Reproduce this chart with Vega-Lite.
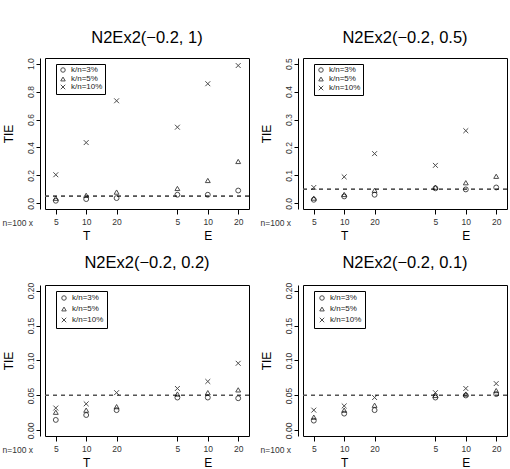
{
  "$schema": "https://vega.github.io/schema/vega-lite/v6.json",
  "padding": {"left": 1, "top": 29, "right": 0, "bottom": 0},
  "config": {
    "font": "Liberation Sans",
    "view": {"stroke": "black", "strokeWidth": 1},
    "title": {"fontSize": 16.5, "fontWeight": "normal", "color": "black", "offset": 11, "baseline": "alphabetic", "anchor": "middle", "frame": "group"},
    "axis": {"grid": false, "domain": false, "tickColor": "black", "domainColor": "black", "labelColor": "#333", "titleColor": "black", "titleFontWeight": "normal", "labelOverlap": false},
    "axisY": {"domain": true, "offset": 5, "tickSize": 4, "labelAngle": -90, "labelAlign": "center", "labelBaseline": "bottom", "labelPadding": 1, "labelFontSize": 8.5, "titleFontSize": 12, "titlePadding": 11, "labelOverlap": false},
    "legend": {
      "title": null, "orient": "none", "legendX": 11, "legendY": 6,
      "strokeColor": "black", "strokeWidth": 1, "padding": 2,
      "labelFontSize": 8, "labelColor": "#222", "labelOffset": 4,
      "symbolSize": 20, "symbolStrokeWidth": 1, "symbolStrokeColor": "black", "symbolFillColor": "transparent",
      "symbolOffset": 1, "rowPadding": -1.5
    }
  },
  "datasets": {
    "tie": [
      {"panel": "1", "cell": "T-5", "k": "k/n=3%", "tie": 0.019},
      {"panel": "1", "cell": "T-5", "k": "k/n=5%", "tie": 0.037},
      {"panel": "1", "cell": "T-5", "k": "k/n=10%", "tie": 0.205},
      {"panel": "1", "cell": "T-10", "k": "k/n=3%", "tie": 0.031},
      {"panel": "1", "cell": "T-10", "k": "k/n=5%", "tie": 0.058},
      {"panel": "1", "cell": "T-10", "k": "k/n=10%", "tie": 0.435},
      {"panel": "1", "cell": "T-20", "k": "k/n=3%", "tie": 0.038},
      {"panel": "1", "cell": "T-20", "k": "k/n=5%", "tie": 0.081},
      {"panel": "1", "cell": "T-20", "k": "k/n=10%", "tie": 0.734},
      {"panel": "1", "cell": "E-5", "k": "k/n=3%", "tie": 0.062},
      {"panel": "1", "cell": "E-5", "k": "k/n=5%", "tie": 0.107},
      {"panel": "1", "cell": "E-5", "k": "k/n=10%", "tie": 0.545},
      {"panel": "1", "cell": "E-10", "k": "k/n=3%", "tie": 0.062},
      {"panel": "1", "cell": "E-10", "k": "k/n=5%", "tie": 0.164},
      {"panel": "1", "cell": "E-10", "k": "k/n=10%", "tie": 0.856},
      {"panel": "1", "cell": "E-20", "k": "k/n=3%", "tie": 0.092},
      {"panel": "1", "cell": "E-20", "k": "k/n=5%", "tie": 0.300},
      {"panel": "1", "cell": "E-20", "k": "k/n=10%", "tie": 0.986},

      {"panel": "0.5", "cell": "T-5", "k": "k/n=3%", "tie": 0.013},
      {"panel": "0.5", "cell": "T-5", "k": "k/n=5%", "tie": 0.019},
      {"panel": "0.5", "cell": "T-5", "k": "k/n=10%", "tie": 0.057},
      {"panel": "0.5", "cell": "T-10", "k": "k/n=3%", "tie": 0.025},
      {"panel": "0.5", "cell": "T-10", "k": "k/n=5%", "tie": 0.032},
      {"panel": "0.5", "cell": "T-10", "k": "k/n=10%", "tie": 0.095},
      {"panel": "0.5", "cell": "T-20", "k": "k/n=3%", "tie": 0.031},
      {"panel": "0.5", "cell": "T-20", "k": "k/n=5%", "tie": 0.047},
      {"panel": "0.5", "cell": "T-20", "k": "k/n=10%", "tie": 0.178},
      {"panel": "0.5", "cell": "E-5", "k": "k/n=3%", "tie": 0.054},
      {"panel": "0.5", "cell": "E-5", "k": "k/n=5%", "tie": 0.058},
      {"panel": "0.5", "cell": "E-5", "k": "k/n=10%", "tie": 0.136},
      {"panel": "0.5", "cell": "E-10", "k": "k/n=3%", "tie": 0.050},
      {"panel": "0.5", "cell": "E-10", "k": "k/n=5%", "tie": 0.074},
      {"panel": "0.5", "cell": "E-10", "k": "k/n=10%", "tie": 0.260},
      {"panel": "0.5", "cell": "E-20", "k": "k/n=3%", "tie": 0.057},
      {"panel": "0.5", "cell": "E-20", "k": "k/n=5%", "tie": 0.097},

      {"panel": "0.2", "cell": "T-5", "k": "k/n=3%", "tie": 0.015},
      {"panel": "0.2", "cell": "T-5", "k": "k/n=5%", "tie": 0.026},
      {"panel": "0.2", "cell": "T-5", "k": "k/n=10%", "tie": 0.032},
      {"panel": "0.2", "cell": "T-10", "k": "k/n=3%", "tie": 0.022},
      {"panel": "0.2", "cell": "T-10", "k": "k/n=5%", "tie": 0.029},
      {"panel": "0.2", "cell": "T-10", "k": "k/n=10%", "tie": 0.038},
      {"panel": "0.2", "cell": "T-20", "k": "k/n=3%", "tie": 0.029},
      {"panel": "0.2", "cell": "T-20", "k": "k/n=5%", "tie": 0.034},
      {"panel": "0.2", "cell": "T-20", "k": "k/n=10%", "tie": 0.054},
      {"panel": "0.2", "cell": "E-5", "k": "k/n=3%", "tie": 0.047},
      {"panel": "0.2", "cell": "E-5", "k": "k/n=5%", "tie": 0.052},
      {"panel": "0.2", "cell": "E-5", "k": "k/n=10%", "tie": 0.060},
      {"panel": "0.2", "cell": "E-10", "k": "k/n=3%", "tie": 0.047},
      {"panel": "0.2", "cell": "E-10", "k": "k/n=5%", "tie": 0.054},
      {"panel": "0.2", "cell": "E-10", "k": "k/n=10%", "tie": 0.070},
      {"panel": "0.2", "cell": "E-20", "k": "k/n=3%", "tie": 0.046},
      {"panel": "0.2", "cell": "E-20", "k": "k/n=5%", "tie": 0.058},
      {"panel": "0.2", "cell": "E-20", "k": "k/n=10%", "tie": 0.096},

      {"panel": "0.1", "cell": "T-5", "k": "k/n=3%", "tie": 0.014},
      {"panel": "0.1", "cell": "T-5", "k": "k/n=5%", "tie": 0.019},
      {"panel": "0.1", "cell": "T-5", "k": "k/n=10%", "tie": 0.029},
      {"panel": "0.1", "cell": "T-10", "k": "k/n=3%", "tie": 0.024},
      {"panel": "0.1", "cell": "T-10", "k": "k/n=5%", "tie": 0.029},
      {"panel": "0.1", "cell": "T-10", "k": "k/n=10%", "tie": 0.035},
      {"panel": "0.1", "cell": "T-20", "k": "k/n=3%", "tie": 0.029},
      {"panel": "0.1", "cell": "T-20", "k": "k/n=5%", "tie": 0.036},
      {"panel": "0.1", "cell": "T-20", "k": "k/n=10%", "tie": 0.047},
      {"panel": "0.1", "cell": "E-5", "k": "k/n=3%", "tie": 0.047},
      {"panel": "0.1", "cell": "E-5", "k": "k/n=5%", "tie": 0.050},
      {"panel": "0.1", "cell": "E-5", "k": "k/n=10%", "tie": 0.054},
      {"panel": "0.1", "cell": "E-10", "k": "k/n=3%", "tie": 0.050},
      {"panel": "0.1", "cell": "E-10", "k": "k/n=5%", "tie": 0.052},
      {"panel": "0.1", "cell": "E-10", "k": "k/n=10%", "tie": 0.060},
      {"panel": "0.1", "cell": "E-20", "k": "k/n=3%", "tie": 0.052},
      {"panel": "0.1", "cell": "E-20", "k": "k/n=5%", "tie": 0.057},
      {"panel": "0.1", "cell": "E-20", "k": "k/n=10%", "tie": 0.067}
    ]
  },
  "data": {"name": "tie"},
  "bounds": "flush",
  "columns": 2,
  "spacing": {"row": 76, "column": 54},
  "resolve": {"scale": {"shape": "independent", "y": "independent", "x": "independent"}, "legend": {"shape": "independent"}},
  "concat": [
    {
      "width": 204, "height": 151,
      "title": "N2Ex2(−0.2, 1)",
      "transform": [{"filter": "datum.panel == '1'"}],
      "layer": [
        {"mark": {"type": "rule", "color": "#555", "strokeWidth": 0.8, "strokeDash": [4, 4]},
         "encoding": {"y": {"datum": 0.05, "type": "quantitative", "scale": {"domain": [-0.04, 1.04], "nice": false, "zero": false},
                            "axis": {"title": "TIE", "values": [0, 0.2, 0.4, 0.6, 0.8, 1.0], "format": ".1f", "labelOverlap": false}}}},
        {"mark": {"type": "point", "filled": false, "stroke": "black", "strokeWidth": 1, "size": 24, "clip": true},
         "encoding": {
           "x": {"field": "cell", "type": "nominal",
                 "scale": {"type": "point", "domain": ["T-5", "T-10", "T-20", "gap", "E-5", "E-10", "E-20"], "padding": 0.355},
                 "axis": {"orient": "bottom", "values": ["T-5", "T-10", "T-20", "E-5", "E-10", "E-20"], "labelExpr": "split(datum.value, '-')[1]", "labelAngle": 0, "tickSize": 5, "labelPadding": 3, "labelFontSize": 8.5,
                          "title": "n=100 x", "titleFontSize": 8.5, "titleColor": "#333", "titleAngle": 0, "titleAlign": "left", "titleBaseline": "middle", "titleX": -43, "titleY": 13}},
           "y": {"field": "tie", "type": "quantitative",
                 "scale": {"domain": [-0.04, 1.04], "nice": false, "zero": false},
                 "axis": {"title": "TIE", "values": [0, 0.2, 0.4, 0.6, 0.8, 1.0], "format": ".1f", "labelOverlap": false}},
           "shape": {"field": "k", "type": "nominal",
                     "scale": {"domain": ["k/n=3%", "k/n=5%", "k/n=10%"], "range": ["circle", "triangle-up", "M-1,-1L1,1M-1,1L1,-1"]},
                     "legend": {"labelExpr": "datum.label + '      '"}}
         }},
        {"mark": {"type": "point", "opacity": 0},
         "encoding": {
           "x": {"field": "cell", "type": "nominal",
                 "axis": {"orient": "bottom", "values": ["T-10", "E-10"], "labelExpr": "split(datum.value, '-')[0]", "labelAngle": 0, "ticks": false, "labelPadding": 21, "labelFontSize": 12, "labelColor": "black", "title": null}}
         }}
      ],
      "resolve": {"axis": {"x": "independent"}}
    },
    {
      "width": 204, "height": 151,
      "title": "N2Ex2(−0.2, 0.5)",
      "transform": [{"filter": "datum.panel == '0.5'"}],
      "layer": [
        {"mark": {"type": "rule", "color": "#555", "strokeWidth": 0.8, "strokeDash": [4, 4]},
         "encoding": {"y": {"datum": 0.05, "type": "quantitative", "scale": {"domain": [-0.02, 0.52], "nice": false, "zero": false},
                            "axis": {"title": "TIE", "values": [0, 0.1, 0.2, 0.3, 0.4, 0.5], "format": ".1f", "labelOverlap": false}}}},
        {"mark": {"type": "point", "filled": false, "stroke": "black", "strokeWidth": 1, "size": 24, "clip": true},
         "encoding": {
           "x": {"field": "cell", "type": "nominal",
                 "scale": {"type": "point", "domain": ["T-5", "T-10", "T-20", "gap", "E-5", "E-10", "E-20"], "padding": 0.355},
                 "axis": {"orient": "bottom", "values": ["T-5", "T-10", "T-20", "E-5", "E-10", "E-20"], "labelExpr": "split(datum.value, '-')[1]", "labelAngle": 0, "tickSize": 5, "labelPadding": 3, "labelFontSize": 8.5,
                          "title": "n=100 x", "titleFontSize": 8.5, "titleColor": "#333", "titleAngle": 0, "titleAlign": "left", "titleBaseline": "middle", "titleX": -43, "titleY": 13}},
           "y": {"field": "tie", "type": "quantitative",
                 "scale": {"domain": [-0.02, 0.52], "nice": false, "zero": false},
                 "axis": {"title": "TIE", "values": [0, 0.1, 0.2, 0.3, 0.4, 0.5], "format": ".1f", "labelOverlap": false}},
           "shape": {"field": "k", "type": "nominal",
                     "scale": {"domain": ["k/n=3%", "k/n=5%", "k/n=10%"], "range": ["circle", "triangle-up", "M-1,-1L1,1M-1,1L1,-1"]},
                     "legend": {"labelExpr": "datum.label + '      '", "rowPadding": 0}}
         }},
        {"mark": {"type": "point", "opacity": 0},
         "encoding": {
           "x": {"field": "cell", "type": "nominal",
                 "axis": {"orient": "bottom", "values": ["T-10", "E-10"], "labelExpr": "split(datum.value, '-')[0]", "labelAngle": 0, "ticks": false, "labelPadding": 21, "labelFontSize": 12, "labelColor": "black", "title": null}}
         }}
      ],
      "resolve": {"axis": {"x": "independent"}}
    },
    {
      "width": 204, "height": 151,
      "title": "N2Ex2(−0.2, 0.2)",
      "transform": [{"filter": "datum.panel == '0.2'"}],
      "layer": [
        {"mark": {"type": "rule", "color": "#555", "strokeWidth": 0.8, "strokeDash": [4, 4]},
         "encoding": {"y": {"datum": 0.05, "type": "quantitative", "scale": {"domain": [-0.008, 0.208], "nice": false, "zero": false},
                            "axis": {"title": "TIE", "values": [0, 0.05, 0.1, 0.15, 0.2], "format": ".2f", "labelOverlap": false}}}},
        {"mark": {"type": "point", "filled": false, "stroke": "black", "strokeWidth": 1, "size": 24, "clip": true},
         "encoding": {
           "x": {"field": "cell", "type": "nominal",
                 "scale": {"type": "point", "domain": ["T-5", "T-10", "T-20", "gap", "E-5", "E-10", "E-20"], "padding": 0.355},
                 "axis": {"orient": "bottom", "values": ["T-5", "T-10", "T-20", "E-5", "E-10", "E-20"], "labelExpr": "split(datum.value, '-')[1]", "labelAngle": 0, "tickSize": 5, "labelPadding": 3, "labelFontSize": 8.5,
                          "title": "n=100 x", "titleFontSize": 8.5, "titleColor": "#333", "titleAngle": 0, "titleAlign": "left", "titleBaseline": "middle", "titleX": -43, "titleY": 13}},
           "y": {"field": "tie", "type": "quantitative",
                 "scale": {"domain": [-0.008, 0.208], "nice": false, "zero": false},
                 "axis": {"title": "TIE", "values": [0, 0.05, 0.1, 0.15, 0.2], "format": ".2f", "labelOverlap": false}},
           "shape": {"field": "k", "type": "nominal",
                     "scale": {"domain": ["k/n=3%", "k/n=5%", "k/n=10%"], "range": ["circle", "triangle-up", "M-1,-1L1,1M-1,1L1,-1"]},
                     "legend": {"labelExpr": "datum.label + '      '", "rowPadding": 2, "padding": 3}}
         }},
        {"mark": {"type": "point", "opacity": 0},
         "encoding": {
           "x": {"field": "cell", "type": "nominal",
                 "axis": {"orient": "bottom", "values": ["T-10", "E-10"], "labelExpr": "split(datum.value, '-')[0]", "labelAngle": 0, "ticks": false, "labelPadding": 21, "labelFontSize": 12, "labelColor": "black", "title": null}}
         }}
      ],
      "resolve": {"axis": {"x": "independent"}}
    },
    {
      "width": 204, "height": 151,
      "title": "N2Ex2(−0.2, 0.1)",
      "transform": [{"filter": "datum.panel == '0.1'"}],
      "layer": [
        {"mark": {"type": "rule", "color": "#555", "strokeWidth": 0.8, "strokeDash": [4, 4]},
         "encoding": {"y": {"datum": 0.05, "type": "quantitative", "scale": {"domain": [-0.008, 0.208], "nice": false, "zero": false},
                            "axis": {"title": "TIE", "values": [0, 0.05, 0.1, 0.15, 0.2], "format": ".2f", "labelOverlap": false}}}},
        {"mark": {"type": "point", "filled": false, "stroke": "black", "strokeWidth": 1, "size": 24, "clip": true},
         "encoding": {
           "x": {"field": "cell", "type": "nominal",
                 "scale": {"type": "point", "domain": ["T-5", "T-10", "T-20", "gap", "E-5", "E-10", "E-20"], "padding": 0.355},
                 "axis": {"orient": "bottom", "values": ["T-5", "T-10", "T-20", "E-5", "E-10", "E-20"], "labelExpr": "split(datum.value, '-')[1]", "labelAngle": 0, "tickSize": 5, "labelPadding": 3, "labelFontSize": 8.5,
                          "title": "n=100 x", "titleFontSize": 8.5, "titleColor": "#333", "titleAngle": 0, "titleAlign": "left", "titleBaseline": "middle", "titleX": -43, "titleY": 13}},
           "y": {"field": "tie", "type": "quantitative",
                 "scale": {"domain": [-0.008, 0.208], "nice": false, "zero": false},
                 "axis": {"title": "TIE", "values": [0, 0.05, 0.1, 0.15, 0.2], "format": ".2f", "labelOverlap": false}},
           "shape": {"field": "k", "type": "nominal",
                     "scale": {"domain": ["k/n=3%", "k/n=5%", "k/n=10%"], "range": ["circle", "triangle-up", "M-1,-1L1,1M-1,1L1,-1"]},
                     "legend": {"labelExpr": "datum.label + '      '", "rowPadding": 2, "padding": 3}}
         }},
        {"mark": {"type": "point", "opacity": 0},
         "encoding": {
           "x": {"field": "cell", "type": "nominal",
                 "axis": {"orient": "bottom", "values": ["T-10", "E-10"], "labelExpr": "split(datum.value, '-')[0]", "labelAngle": 0, "ticks": false, "labelPadding": 21, "labelFontSize": 12, "labelColor": "black", "title": null}}
         }}
      ],
      "resolve": {"axis": {"x": "independent"}}
    }
  ]
}
